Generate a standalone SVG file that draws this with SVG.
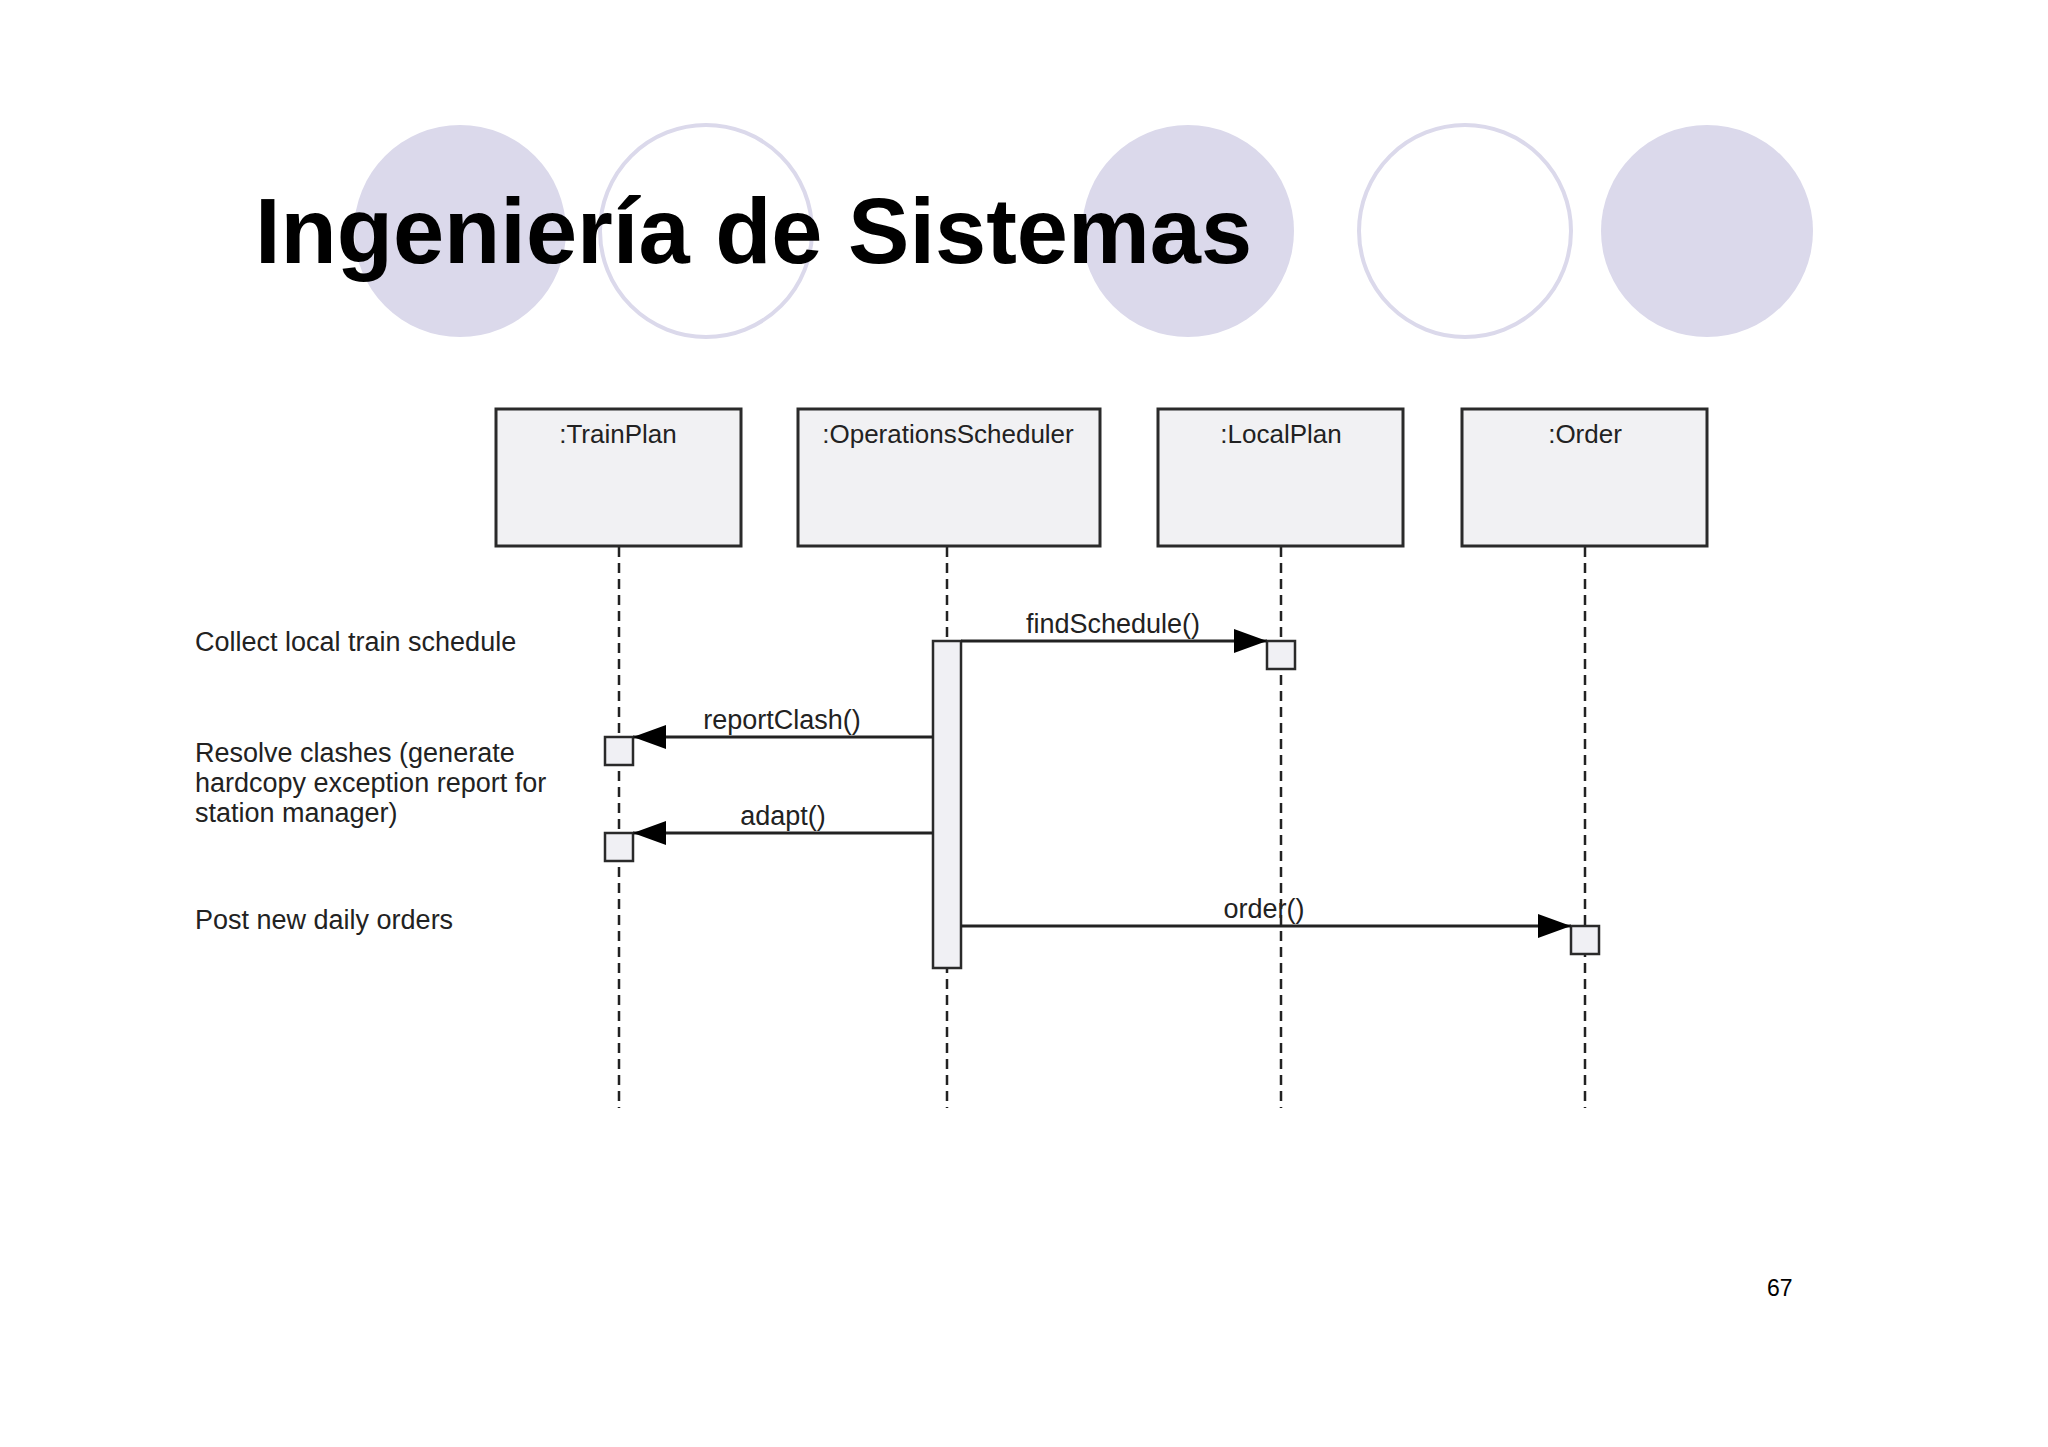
<svg xmlns="http://www.w3.org/2000/svg" width="2048" height="1447" viewBox="0 0 2048 1447">
  <style>
    .deco-fill { fill: #dbd9eb; }
    .deco-ring { fill: none; stroke: #dbd9eb; stroke-width: 4; }
    .title { font-family: "Liberation Sans", Arial, sans-serif; font-weight: bold; font-size: 92px; fill: #000; }
    .box { fill: #f1f1f3; stroke: #2a2a2a; stroke-width: 3; }
    .act { fill: #f0f0f4; stroke: #2a2a2a; stroke-width: 2.5; }
    .life { stroke: #222; stroke-width: 2.5; stroke-dasharray: 10 6; fill: none; }
    .lbl { font-family: "Liberation Sans", Arial, sans-serif; font-size: 26px; fill: #222; text-anchor: middle; }
    .note { font-family: "Liberation Sans", Arial, sans-serif; font-size: 27px; fill: #222; }
    .msg { stroke: #222; stroke-width: 3; fill: none; marker-end: url(#head); }
    .mlbl { font-family: "Liberation Sans", Arial, sans-serif; font-size: 27px; fill: #222; text-anchor: middle; }
    .pg { font-family: "Liberation Sans", Arial, sans-serif; font-size: 23px; fill: #000; }
  </style>
  <defs>
    <marker id="head" markerUnits="userSpaceOnUse" viewBox="0 0 33 24" refX="33" refY="12" markerWidth="33" markerHeight="24" orient="auto">
      <path d="M0,0 L33,12 L0,24 Z" fill="#000"/>
    </marker>
  </defs>
  <rect width="2048" height="1447" fill="#fff"/>

  <g id="decoration">
    <circle class="deco-fill" cx="460" cy="231" r="106"/>
    <circle class="deco-ring" cx="706" cy="231" r="106"/>
    <circle class="deco-fill" cx="1188" cy="231" r="106"/>
    <circle class="deco-ring" cx="1465" cy="231" r="106"/>
    <circle class="deco-fill" cx="1707" cy="231" r="106"/>
  </g>

  <text class="title" x="255" y="263">Ingeniería de Sistemas</text>

  <g id="notes">
    <text class="note" x="195" y="651">Collect local train schedule</text>
    <text class="note" x="195" y="762">Resolve clashes (generate</text>
    <text class="note" x="195" y="792">hardcopy exception report for</text>
    <text class="note" x="195" y="822">station manager)</text>
    <text class="note" x="195" y="929">Post new daily orders</text>
  </g>

  <g id="TrainPlan">
    <line class="life" x1="619" y1="547" x2="619" y2="1108"/>
    <rect class="box" x="496" y="409" width="245" height="137"/>
    <text class="lbl" x="618" y="443">:TrainPlan</text>
    <rect class="act" x="605" y="737" width="28" height="28"/>
    <rect class="act" x="605" y="833" width="28" height="28"/>
  </g>

  <g id="OperationsScheduler">
    <line class="life" x1="947" y1="547" x2="947" y2="1108"/>
    <rect class="box" x="798" y="409" width="302" height="137"/>
    <text class="lbl" x="948" y="443">:OperationsScheduler</text>
    <rect class="act" x="933" y="641" width="28" height="327"/>
  </g>

  <g id="LocalPlan">
    <line class="life" x1="1281" y1="547" x2="1281" y2="1108"/>
    <rect class="box" x="1158" y="409" width="245" height="137"/>
    <text class="lbl" x="1281" y="443">:LocalPlan</text>
    <rect class="act" x="1267" y="641" width="28" height="28"/>
  </g>

  <g id="Order">
    <line class="life" x1="1585" y1="547" x2="1585" y2="1108"/>
    <rect class="box" x="1462" y="409" width="245" height="137"/>
    <text class="lbl" x="1585" y="443">:Order</text>
    <rect class="act" x="1571" y="926" width="28" height="28"/>
  </g>

  <g id="connectors">
    <line class="msg" x1="961" y1="641" x2="1267" y2="641"/>
    <text class="mlbl" x="1113" y="633">findSchedule()</text>
    <line class="msg" x1="933" y1="737" x2="633" y2="737"/>
    <text class="mlbl" x="782" y="729">reportClash()</text>
    <line class="msg" x1="933" y1="833" x2="633" y2="833"/>
    <text class="mlbl" x="783" y="825">adapt()</text>
    <line class="msg" x1="961" y1="926" x2="1571" y2="926"/>
    <text class="mlbl" x="1264" y="918">order()</text>
  </g>

  <text class="pg" x="1767" y="1296">67</text>
</svg>
